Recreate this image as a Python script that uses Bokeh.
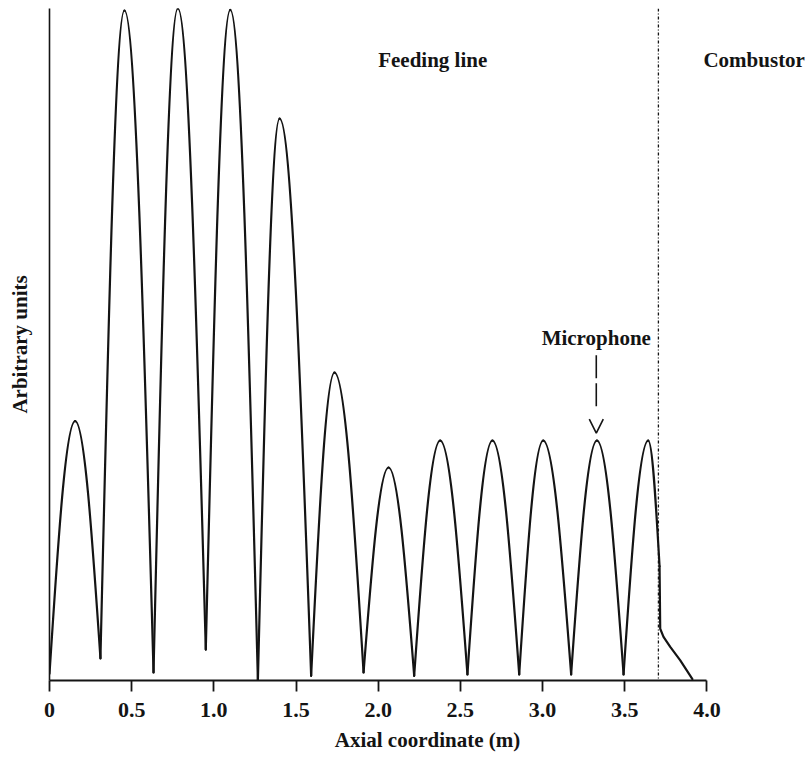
import numpy as np
from bokeh.plotting import figure
from bokeh.models import (FixedTicker, Label, Arrow, OpenHead, Span, Range1d,
                          ColumnDataSource)
from bokeh.embed import file_html
from bokeh.resources import INLINE

# ---------------- data ----------------
tick_values = [0.0, 0.5, 1.0, 1.5, 2.0, 2.5, 3.0, 3.5, 4.0]
tick_labels = ["0", "0.5", "1.0", "1.5", "2.0", "2.5", "3.0", "3.5", "4.0"]

# pressure minima (nodes) along the feeding line
min_x = [0.0, 0.310, 0.633, 0.951, 1.268, 1.592, 1.911, 2.219, 2.543, 2.858, 3.174, 3.493]
min_y = [0.010, 0.033, 0.012, 0.046, 0.000, 0.007, 0.012, 0.007, 0.009, 0.009, 0.009, 0.009]

# pressure maxima (antinodes)
peak_x = [0.156, 0.456, 0.781, 1.100, 1.400, 1.734, 2.063, 2.377, 2.695, 3.004, 3.331, 3.643]
peak_y = [0.386, 0.997, 1.000, 0.998, 0.836, 0.458, 0.317, 0.357, 0.357, 0.357, 0.357, 0.357]

# drop at the feeding line / combustor junction and combustor part
drop_x = [3.712, 3.716, 3.736, 3.777, 3.838, 3.912]
drop_y = [0.170, 0.077, 0.065, 0.050, 0.030, 0.002]

boundary_x = 3.705     # feeding line / combustor interface
mic_x = 3.327          # microphone position

# ---------------- figure ----------------
FONT = "Liberation Serif"
INK = "#141414"

p = figure(width=805, height=759, x_range=Range1d(0, 4.6), y_range=Range1d(0, 1.0),
           output_backend="svg", toolbar_location=None,
           min_border_left=49, min_border_right=0, min_border_top=8,
           min_border_bottom=79)
p.xgrid.visible = False
p.ygrid.visible = False
p.outline_line_color = None
p.background_fill_color = "white"

# x axis
xa = p.xaxis[0]
xa.bounds = (0, 4.0)
xa.ticker = FixedTicker(ticks=tick_values)
xa.major_label_overrides = {v: s for v, s in zip(tick_values, tick_labels)}
xa.major_tick_in = 0
xa.major_tick_out = 11
xa.minor_tick_in = 0
xa.minor_tick_out = 0
xa.axis_line_width = 2
xa.axis_line_color = INK
xa.major_tick_line_width = 1.8
xa.major_tick_line_color = INK
xa.major_label_text_font = FONT
xa.major_label_text_font_style = "bold"
xa.major_label_text_font_size = "22px"
xa.major_label_text_color = INK
xa.major_label_standoff = 11
xa.axis_label = "Axial coordinate (m)"
xa.axis_label_text_font = FONT
xa.axis_label_text_font_style = "bold"
xa.axis_label_text_font_size = "21px"
xa.axis_label_text_color = INK
xa.axis_label_standoff = 8

# y axis (line only)
ya = p.yaxis[0]
ya.ticker = FixedTicker(ticks=[])
ya.major_tick_in = 0
ya.major_tick_out = 0
ya.minor_tick_in = 0
ya.minor_tick_out = 0
ya.major_label_standoff = 0
ya.axis_line_width = 1.6
ya.axis_line_color = INK
ya.axis_label = "Arbitrary units"
ya.axis_label_text_font = FONT
ya.axis_label_text_font_style = "bold"
ya.axis_label_text_font_size = "21px"
ya.axis_label_text_color = INK
ya.axis_label_standoff = 18

# ---------------- standing-wave curve ----------------
mx = np.array(min_x)
my = np.array(min_y)
pkx = np.array(peak_x)
pky = np.array(peak_y)
end_x = np.append(mx[1:], drop_x[0])
end_y = np.append(my[1:], drop_y[0])

A, B, K = 0.3343, 0.6419, 0.5251   # cubic-Bezier shape of a quarter sine arch

rise = dict(x0=mx, y0=my, x1=pkx, y1=pky,
            cx0=mx + A * (pkx - mx), cy0=my + K * (pky - my),
            cx1=mx + B * (pkx - mx), cy1=pky)
fall = dict(x0=pkx, y0=pky, x1=end_x, y1=end_y,
            cx0=pkx + (1 - B) * (end_x - pkx), cy0=pky,
            cx1=pkx + (1 - A) * (end_x - pkx), cy1=end_y + K * (pky - end_y))
src = ColumnDataSource({k: np.concatenate([rise[k], fall[k]]) for k in rise})

p.bezier(x0="x0", y0="y0", x1="x1", y1="y1", cx0="cx0", cy0="cy0",
         cx1="cx1", cy1="cy1", source=src, line_color=INK, line_width=2.2,
         line_cap="round")
p.line(drop_x, drop_y, line_color=INK, line_width=2.2, line_cap="round",
       line_join="round")

# interface line
p.add_layout(Span(location=boundary_x, dimension="height", line_color=INK,
                  line_width=1.3, line_dash="3 2 1 2"))

# microphone arrow
p.add_layout(Arrow(end=OpenHead(size=14, line_width=1.6, line_color=INK),
                   x_start=mic_x, y_start=0.484, x_end=mic_x, y_end=0.368,
                   line_color=INK, line_width=1.6, line_dash="23 5 23 100"))

# texts
for txt, x, y, align in [("Feeding line", 2.0, 0.924, "left"),
                         ("Combustor", 3.979, 0.924, "left"),
                         ("Microphone", mic_x, 0.510, "center")]:
    p.add_layout(Label(x=x, y=y, text=txt, text_font=FONT,
                       text_font_style="bold", text_font_size="21px",
                       text_color=INK, text_align=align,
                       text_baseline="alphabetic"))

open("out.html", "w").write(file_html(p, INLINE))
